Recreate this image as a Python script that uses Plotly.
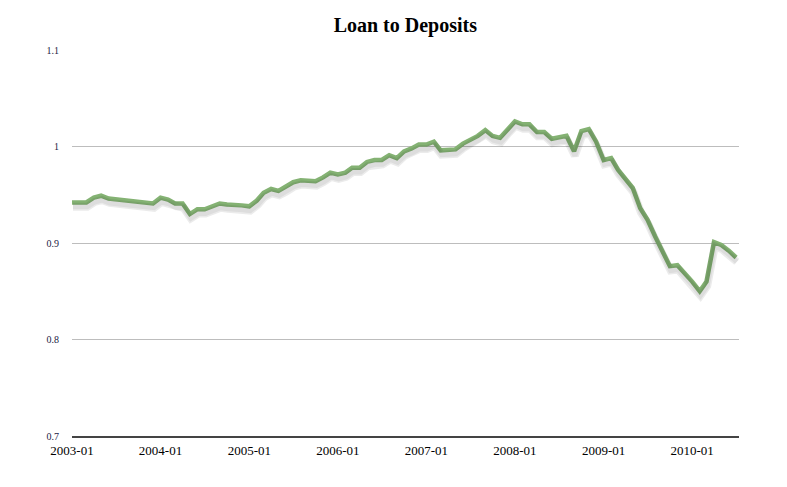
import pandas as pd
import plotly.graph_objects as go

start_month = "2003-01-01"
ratio = [
    0.942, 0.942, 0.942, 0.947, 0.949, 0.946, 0.945, 0.944, 0.944, 0.942, 0.941, 0.941,
    0.947, 0.945, 0.941, 0.941, 0.930, 0.935, 0.935, 0.938, 0.941, 0.940, 0.940, 0.939,
    0.938, 0.944, 0.952, 0.956, 0.954, 0.958, 0.963, 0.965, 0.964, 0.964, 0.968, 0.973,
    0.971, 0.973, 0.978, 0.978, 0.984, 0.986, 0.986, 0.991, 0.988, 0.995, 0.998, 1.002,
    1.002, 1.005, 0.996, 0.997, 0.997, 1.003, 1.007, 1.011, 1.017, 1.011, 1.009, 1.018,
    1.026, 1.023, 1.023, 1.015, 1.015, 1.008, 1.010, 1.011, 0.995, 1.016, 1.018, 1.005,
    0.986, 0.988, 0.976, 0.967, 0.957, 0.936, 0.924, 0.907, 0.890, 0.876, 0.877, 0.869,
    0.860, 0.850, 0.860, 0.901, 0.898, 0.892, 0.885,
]
dates = pd.date_range(start_month, periods=len(ratio), freq="MS")
y_ticks = [0.7, 0.8, 0.9, 1.0, 1.1]
y_tick_text = ["0.7", "0.8", "0.9", "1", "1.1"]

x_range = ["2003-01-01", "2010-07-13"]
y_range = [0.7, 1.1]

fig = go.Figure()
# soft drop shadow (same data, slightly shifted overlay axes)
fig.add_trace(go.Scatter(
    x=dates, y=ratio, mode="lines", xaxis="x2", yaxis="y2",
    line=dict(color="rgba(0,0,0,0.08)", width=8, shape="linear"),
    hoverinfo="skip", showlegend=False,
))
fig.add_trace(go.Scatter(
    x=dates, y=ratio, mode="lines", xaxis="x2", yaxis="y2",
    line=dict(color="rgba(0,0,0,0.06)", width=5, shape="linear"),
    hoverinfo="skip", showlegend=False,
))
fig.add_trace(go.Scatter(
    x=dates, y=ratio, mode="lines",
    line=dict(color="#84b273", width=4.5, shape="linear"),
    showlegend=False, name="Loan to Deposits",
))

fig.update_layout(
    width=787, height=487,
    margin=dict(l=72, r=48, t=50, b=51),
    paper_bgcolor="white", plot_bgcolor="white",
    title=dict(text="<b>Loan to Deposits</b>", x=0.515, xanchor="center", y=0.948, yanchor="middle",
               font=dict(family="Liberation Serif", size=20, color="#000")),
    xaxis=dict(
        type="date", range=x_range, tickformat="%Y-%m", dtick="M12", tick0="2003-01-01",
        showgrid=False, showline=True, linecolor="#444", linewidth=1.5,
        ticks="", tickfont=dict(family="Liberation Serif", size=13, color="#000"),
        ticklabelstandoff=2, zeroline=False,
    ),
    yaxis=dict(
        range=y_range, tickvals=y_ticks, ticktext=y_tick_text,
        showgrid=True, gridcolor="#bdbdbd", gridwidth=1, showline=False, zeroline=False,
        ticks="", tickfont=dict(family="Liberation Serif", size=10, color="#222244"),
        ticklabelstandoff=12,
    ),
    xaxis2=dict(type="date", range=["2002-12-28", "2010-07-10"], overlaying="x", visible=False),
    yaxis2=dict(range=[0.7045, 1.1045], overlaying="y", visible=False),
)

fig.write_html("out.html")
